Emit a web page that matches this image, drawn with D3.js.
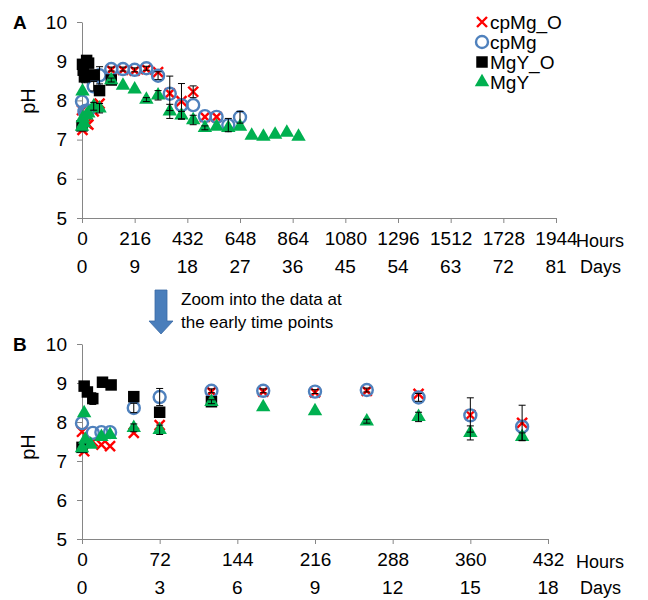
<!DOCTYPE html>
<html>
<head>
<meta charset="utf-8">
<script src="https://cdn.jsdelivr.net/npm/d3@7"></script>
<style>
  body { margin: 0; background: #fff; }
  text { font-family: "Liberation Sans", Arial, sans-serif; fill: #000; }
</style>
</head>
<body>
<div id="chart"></div>
<script>
// Data (time in hours, pH, error)
const seriesNames = ["cpMg_O", "cpMg", "MgY_O", "MgY"];

const cpMgO_t   = [0, 2, 10, 18, 26, 48, 72, 120, 168, 216, 264, 312, 360, 408, 456, 504, 552];
const cpMgO_pH  = [7.75, 7.25, 7.5, 7.42, 7.38, 7.72, 7.92, 8.78, 8.78, 8.76, 8.8, 8.72, 8.18, 7.98, 8.22, 7.58, 7.58];
const cpMgO_err = [0, 0, 0, 0, 0, 0, 0, 0, 0, 0, 0, 0, 0.44, 0.45, 0.15, 0, 0];

const cpMg_t   = [0, 10, 18, 26, 48, 72, 120, 168, 216, 264, 312, 360, 408, 456, 504, 552, 600, 648];
const cpMg_pH  = [7.97, 7.72, 7.74, 7.74, 8.36, 8.64, 8.8, 8.8, 8.78, 8.82, 8.63, 8.17, 7.88, 7.88, 7.6, 7.58, 7.37, 7.57];
const cpMg_err = [0, 0, 0, 0, 0.12, 0.22, 0.05, 0.05, 0.05, 0.05, 0.1, 0, 0, 0, 0, 0, 0.17, 0.15];

const MgYO_t   = [0, 2, 5, 10, 19, 27, 48, 72, 120];
const MgYO_pH  = [7.35, 8.92, 8.77, 8.6, 9.02, 8.95, 8.65, 8.25, 8.52];
const MgYO_err = [0, 0.1, 0, 0.15, 0, 0, 0.1, 0.1, 0.05];

const MgY_t   = [0, 2, 3, 8, 18, 26, 48, 72, 120, 168, 216, 264, 312, 360, 408, 456, 504, 552, 600, 648, 696, 744, 792, 840, 888];
const MgY_pH  = [7.33, 8.23, 7.55, 7.42, 7.62, 7.67, 7.85, 7.8, 8.52, 8.38, 8.28, 8.02, 8.13, 7.72, 7.62, 7.5, 7.3, 7.33, 7.3, 7.33, 7.1, 7.08, 7.13, 7.18, 7.08];
const MgY_err = [0, 0, 0, 0, 0, 0, 0.1, 0.12, 0, 0, 0, 0.05, 0.12, 0.18, 0.1, 0.12, 0.05, 0, 0, 0, 0, 0, 0, 0, 0];

const pHTicks = [5, 6, 7, 8, 9, 10];
const hoursTicksA = [0, 216, 432, 648, 864, 1080, 1296, 1512, 1728, 1944];
const daysTicksA  = [0, 9, 18, 27, 36, 45, 54, 63, 72, 81];
const hoursTicksB = [0, 72, 144, 216, 288, 360, 432];
const daysTicksB  = [0, 3, 6, 9, 12, 15, 18];

const W = 648, H = 600;
const axisColor = "#868686";
const red = "#ff0000", blue = "#4f81bd", green = "#00b050";

const svg = d3.select("#chart").append("svg")
  .attr("width", W).attr("height", H);

function zip(t, p, e) {
  return t.map((d, i) => ({t: d, pH: p[i], err: e[i]}));
}
const data = {
  cpMg_O: zip(cpMgO_t, cpMgO_pH, cpMgO_err),
  cpMg: zip(cpMg_t, cpMg_pH, cpMg_err),
  MgY_O: zip(MgYO_t, MgYO_pH, MgYO_err),
  MgY: zip(MgY_t, MgY_pH, MgY_err)
};

// draw one marker of a series at (0,0) inside group g
function marker(g, name) {
  if (name === "cpMg_O") {
    g.append("path").attr("d", "M-5,-5L5,5M-5,5L5,-5")
      .attr("stroke", red).attr("stroke-width", 2.4).attr("fill", "none");
  } else if (name === "cpMg") {
    g.append("circle").attr("r", 6).attr("fill", "none")
      .attr("stroke", blue).attr("stroke-width", 2.4);
  } else if (name === "MgY_O") {
    g.append("path").attr("d", d3.symbol(d3.symbolSquare, 132)()).attr("fill", "#000");
  } else {
    g.append("path").attr("d", d3.symbol(d3.symbolTriangle, 90)()).attr("fill", green);
  }
}

function drawPanel(p) {
  const g = svg.append("g");
  const x = d3.scaleLinear().domain([0, p.xMax]).range([82, p.xRight]);
  const y = d3.scaleLinear().domain([5, 10]).range([p.yBottom, p.yTop]);

  // y axis
  const ya = g.append("g").attr("transform", "translate(82,0)")
    .call(d3.axisLeft(y).tickValues(pHTicks).tickFormat(d3.format("d"))
      .tickSize(5).tickSizeOuter(0).tickPadding(10));
  // x axis
  const xa = g.append("g").attr("transform", `translate(0,${p.yBottom})`)
    .call(d3.axisBottom(x).tickValues(p.hours).tickFormat(d3.format("d"))
      .tickSize(5).tickSizeOuter(0).tickPadding(9));
  [ya, xa].forEach(a => {
    a.selectAll("path,line").attr("stroke", axisColor);
    a.selectAll("text").attr("font-size", 19).attr("font-family", "Liberation Sans, Arial, sans-serif");
  });

  // second row of tick labels: days
  g.append("g").selectAll("text").data(p.days).join("text")
    .attr("x", (d, i) => x(p.hours[i]))
    .attr("y", p.yBottom + 55)
    .attr("text-anchor", "middle").attr("font-size", 19)
    .text(d => d);

  g.append("text").attr("x", 576).attr("y", p.yBottom + 29)
    .attr("font-size", 18).text("Hours");
  g.append("text").attr("x", 580).attr("y", p.yBottom + 55)
    .attr("font-size", 18).text("Days");

  // y axis title
  g.append("text")
    .attr("transform", `translate(35,${p.pHy}) rotate(-90)`)
    .attr("text-anchor", "middle").attr("font-size", 20).text("pH");

  // panel letter
  g.append("text").attr("x", 13).attr("y", p.yTop + 7)
    .attr("font-size", 19).attr("font-weight", "bold").text(p.letter);

  // markers, series in legend order (later ones on top)
  seriesNames.forEach(name => {
    const pts = data[name].filter(d => d.t <= p.xMax);
    g.append("g").selectAll("g").data(pts).join("g")
      .attr("transform", d => `translate(${x(d.t)},${y(d.pH)})`)
      .each(function() { marker(d3.select(this), name); });
  });

  // error bars on top
  seriesNames.forEach(name => {
    const pts = data[name].filter(d => d.t <= p.xMax && d.err > 0);
    const eb = g.append("g").attr("stroke", "#000").attr("stroke-width", 1);
    pts.forEach(d => {
      const cx = x(d.t), y1 = y(d.pH + d.err), y2 = y(d.pH - d.err);
      eb.append("line").attr("x1", cx).attr("x2", cx).attr("y1", y1).attr("y2", y2);
      eb.append("line").attr("x1", cx - 3.5).attr("x2", cx + 3.5).attr("y1", y1).attr("y2", y1);
      eb.append("line").attr("x1", cx - 3.5).attr("x2", cx + 3.5).attr("y1", y2).attr("y2", y2);
    });
  });
}

drawPanel({letter: "A", xMax: 1944, xRight: 556, yTop: 22, yBottom: 218, pHy: 101,
  hours: hoursTicksA, days: daysTicksA});
drawPanel({letter: "B", xMax: 432, xRight: 548, yTop: 344, yBottom: 539, pHy: 447,
  hours: hoursTicksB, days: daysTicksB});

// legend
const leg = svg.append("g");
seriesNames.forEach((name, i) => {
  const row = leg.append("g").attr("transform", `translate(482,${22 + i * 20})`);
  marker(row, name);
  row.append("text").attr("x", 8).attr("y", 6.5).attr("font-size", 19).text(name);
});

// zoom arrow and note
const arrow = svg.append("g");
arrow.append("path")
  .attr("d", "M155,290 L167,290 L167,321 L173,321 L161,334 L149,321 L155,321 Z")
  .attr("fill", "#4a7ebb").attr("stroke", "#3a6aa5").attr("stroke-width", 0.8);
arrow.append("text").attr("x", 181).attr("y", 305).attr("font-size", 17)
  .text("Zoom into the data at");
arrow.append("text").attr("x", 181).attr("y", 328).attr("font-size", 17)
  .text("the early time points");
</script>
</body>
</html>
